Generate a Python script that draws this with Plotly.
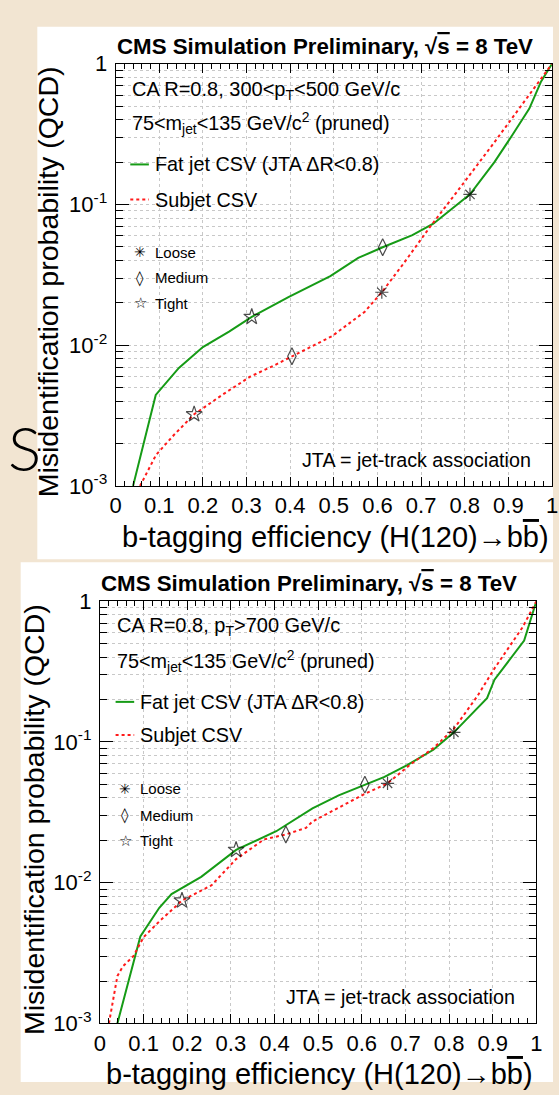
import plotly.graph_objects as go

W, H = 559, 1095

# ---------------- data ----------------
# Top panel: CA R=0.8, 300<pT<500 GeV/c
top_fat_x = [0.04, 0.092, 0.145, 0.20, 0.26, 0.312, 0.396, 0.492, 0.556, 0.612, 0.68, 0.728, 0.812, 0.868, 0.908, 0.948, 0.975, 1.0]
top_fat_y = [0.001, 0.00443, 0.0069, 0.0097, 0.0125, 0.0159, 0.022, 0.031, 0.0417, 0.0497, 0.0606, 0.073, 0.118, 0.20, 0.308, 0.48, 0.75, 1.0]
top_sub_x = [0.056, 0.0926, 0.133, 0.18, 0.245, 0.308, 0.36, 0.404, 0.452, 0.496, 0.571, 0.61, 0.661, 0.72, 0.788, 0.868, 1.0]
top_sub_y = [0.001, 0.00166, 0.00229, 0.00323, 0.00445, 0.00597, 0.0071, 0.00835, 0.0099, 0.0116, 0.0173, 0.0238, 0.0385, 0.069, 0.13, 0.277, 1.0]

# Bottom panel: CA R=0.8, pT>700 GeV/c
bot_fat_x = [0.04, 0.0926, 0.136, 0.164, 0.232, 0.312, 0.404, 0.487, 0.547, 0.607, 0.652, 0.704, 0.764, 0.811, 0.887, 0.904, 0.943, 0.972, 1.0]
bot_fat_y = [0.001, 0.00415, 0.00663, 0.0083, 0.011, 0.0171, 0.0232, 0.0337, 0.0417, 0.0497, 0.0565, 0.0685, 0.088, 0.117, 0.205, 0.277, 0.40, 0.525, 1.0]
bot_sub_x = [0.0206, 0.04, 0.0525, 0.0765, 0.10, 0.136, 0.188, 0.256, 0.312, 0.376, 0.426, 0.472, 0.487, 0.547, 0.607, 0.659, 0.711, 0.764, 0.811, 0.865, 0.904, 0.968, 1.0]
bot_sub_y = [0.001, 0.00217, 0.00254, 0.0030, 0.0041, 0.0053, 0.00746, 0.0096, 0.0147, 0.0203, 0.022, 0.0245, 0.0272, 0.0343, 0.0428, 0.0508, 0.069, 0.0904, 0.124, 0.212, 0.333, 0.65, 1.0]

# Working points (Tight, Medium, Loose)
wp_names = ["Tight", "Medium", "Loose"]
top_fat_wp_x = [0.312, 0.612, 0.812]
top_fat_wp_y = [0.0159, 0.0497, 0.118]
top_sub_wp_x = [0.18, 0.404, 0.61]
top_sub_wp_y = [0.00323, 0.00835, 0.0238]
bot_fat_wp_x = [0.312, 0.607, 0.811]
bot_fat_wp_y = [0.0171, 0.0497, 0.117]
bot_sub_wp_x = [0.188, 0.426, 0.659]
bot_sub_wp_y = [0.00746, 0.022, 0.0508]

x_tick_vals = [0, 0.1, 0.2, 0.3, 0.4, 0.5, 0.6, 0.7, 0.8, 0.9, 1.0]
x_tick_text = ["0", "0.1", "0.2", "0.3", "0.4", "0.5", "0.6", "0.7", "0.8", "0.9", "1"]
y_tick_vals = [0.001, 0.01, 0.1, 1]
y_tick_text = ["10<sup>-3</sup>", "10<sup>-2</sup>", "10<sup>-1</sup>", "1"]
y_minor_mult = [2, 3, 4, 5, 6, 7, 8, 9]
y_minor_vals = [m * d for d in (0.001, 0.01, 0.1) for m in y_minor_mult]

# ---------------- styling ----------------
FONT = "Liberation Sans, Arial, Helvetica, sans-serif"
GREEN = "#169b16"
RED = "#ff1a1a"
PARCH = "#f2e5d2"
GRID = "#c8c8c8"
SYMBOLS = ["star-open", "diamond-tall-open", "asterisk-open"]
SIZES = [12, 12, 11]


def px(x):
    return x / W


def py(y):
    return 1 - y / H


fig = go.Figure()

panels = [
    dict(xa="x", ya="y", fx=top_fat_x, fy=top_fat_y, sx=top_sub_x, sy=top_sub_y,
         fwx=top_fat_wp_x, fwy=top_fat_wp_y, swx=top_sub_wp_x, swy=top_sub_wp_y),
    dict(xa="x2", ya="y2", fx=bot_fat_x, fy=bot_fat_y, sx=bot_sub_x, sy=bot_sub_y,
         fwx=bot_fat_wp_x, fwy=bot_fat_wp_y, swx=bot_sub_wp_x, swy=bot_sub_wp_y),
]

for p in panels:
    fig.add_trace(go.Scatter(x=p["fx"], y=p["fy"], mode="lines", xaxis=p["xa"], yaxis=p["ya"],
                             line=dict(color=GREEN, width=2), name="Fat jet CSV (JTA ΔR<0.8)",
                             showlegend=False))
    fig.add_trace(go.Scatter(x=p["sx"], y=p["sy"], mode="lines", xaxis=p["xa"], yaxis=p["ya"],
                             line=dict(color=RED, width=2, dash="3px,3px"), name="Subjet CSV",
                             showlegend=False))
    for wx, wy in ((p["fwx"], p["fwy"]), (p["swx"], p["swy"])):
        fig.add_trace(go.Scatter(x=wx, y=wy, mode="markers", xaxis=p["xa"], yaxis=p["ya"],
                                 showlegend=False, hovertext=wp_names,
                                 marker=dict(symbol=SYMBOLS, size=SIZES, color="black",
                                             line=dict(color="black", width=1.2))))

common_x = dict(range=[0, 1], tickvals=x_tick_vals, ticktext=x_tick_text,
                ticks="inside", ticklen=9, tickcolor="black", tickwidth=1,
                showline=True, linecolor="black", linewidth=1, mirror="ticks",
                showgrid=True, gridcolor=GRID, gridwidth=1, griddash="dot",
                zeroline=False, tickfont=dict(family=FONT, size=22, color="black"),
                minor=dict(dtick=0.02, tick0=0, ticks="inside", ticklen=5, tickcolor="black",
                           showgrid=False))
common_y = dict(type="log", range=[-3, 0], tickvals=y_tick_vals, ticktext=y_tick_text,
                ticks="inside", ticklen=13, tickcolor="black", tickwidth=1,
                showline=True, linecolor="black", linewidth=1, mirror="ticks",
                showgrid=True, gridcolor=GRID, gridwidth=1, griddash="dot",
                zeroline=False, tickfont=dict(family=FONT, size=22, color="black"),
                ticklabelstandoff=3,
                minor=dict(tickmode="array", tickvals=y_minor_vals, ticks="inside", ticklen=7,
                           tickcolor="black", showgrid=True, gridcolor=GRID, griddash="dot"))

fig.update_layout(
    width=W, height=H, margin=dict(l=0, r=0, t=0, b=0), autosize=False,
    paper_bgcolor=PARCH, plot_bgcolor="white", showlegend=False,
    font=dict(family=FONT, color="black"),
    xaxis=dict(domain=[px(112), px(558)], anchor="y", **common_x),
    yaxis=dict(domain=[py(485), py(53)], anchor="x", **common_y),
    xaxis2=dict(domain=[px(96), px(542)], anchor="y2", **common_x),
    yaxis2=dict(domain=[py(1035), py(603)], anchor="x2", **common_y),
)

shapes = [
    dict(type="rect", xref="paper", yref="paper", x0=px(32), x1=px(559), y0=py(560), y1=py(15),
         fillcolor="white", line=dict(width=0), layer="below"),
    dict(type="rect", xref="paper", yref="paper", x0=px(15), x1=px(559), y0=py(1095), y1=py(563),
         fillcolor="white", line=dict(width=0), layer="below"),
]

ann = []


def text(x, y, s, size=19.5, xanchor="left", yanchor="middle", angle=0, family=FONT, weight=None):
    f = dict(family=family, size=size, color="black")
    if weight is not None:
        f["weight"] = weight
    ann.append(dict(x=px(x), y=py(y), xref="paper", yref="paper", text=s, showarrow=False,
                    xanchor=xanchor, yanchor=yanchor, textangle=angle, font=f, borderpad=0))


blocks = [
    dict(dx=0, dy=0, ox=127.6, kin="CA R=0.8, 300&lt;p<sub>T</sub>&lt;500 GeV/c", lx0=127, ytx=43),
    dict(dx=-16, dy=550, ox=112.3, kin="CA R=0.8, p<sub>T</sub>&gt;700 GeV/c", lx0=112, ytx=28),
]
top_rows = dict(kin=79, mass=113, fat=156, sub=192, loose=246, medium=272, tight=298)
bot_rows = dict(kin=627, mass=663, fat=706, sub=740, loose=795, medium=822, tight=848)

for i, b in enumerate(blocks):
    dx, dy = b["dx"], b["dy"]
    ro = top_rows if i == 0 else {k: v - 550 for k, v in bot_rows.items()}
    text(112 + dx, 35 + dy, "<b>CMS Simulation Preliminary, √<span style='text-decoration:overline'>s</span> = 8 TeV</b>", size=22.3)
    text(b["ox"], ro["kin"] + dy + 1.5, b["kin"], size=20)
    text(b["ox"], ro["mass"] + dy + 1, "75&lt;m<sub>jet</sub>&lt;135 GeV/c<sup>2</sup> (pruned)", size=19.8)
    tx = b["ox"] + 24
    shapes.append(dict(type="line", xref="paper", yref="paper", x0=px(b["lx0"]), x1=px(b["lx0"] + 19),
                       y0=py(ro["fat"] + dy), y1=py(ro["fat"] + dy), line=dict(color=GREEN, width=2)))
    shapes.append(dict(type="line", xref="paper", yref="paper", x0=px(b["lx0"]), x1=px(b["lx0"] + 19),
                       y0=py(ro["sub"] + dy), y1=py(ro["sub"] + dy),
                       line=dict(color=RED, width=2, dash="3px,3px")))
    text(tx, ro["fat"] + dy, "Fat jet CSV (JTA ΔR&lt;0.8)", size=19.8)
    text(tx, ro["sub"] + dy, "Subjet CSV", size=19.8)
    mx = b["lx0"] + 10
    text(mx, ro["loose"] + dy, "✳", size=14, xanchor="center", family="DejaVu Sans")
    text(mx, ro["medium"] + dy, "◊", size=15, xanchor="center", family="DejaVu Sans")
    text(mx, ro["tight"] + dy, "☆", size=15, xanchor="center", family="DejaVu Sans")
    text(tx, ro["loose"] + dy, "Loose", size=15)
    text(tx, ro["medium"] + dy, "Medium", size=15)
    text(tx, ro["tight"] + dy, "Tight", size=15)
    text(301 + dx, 458 + dy, "JTA = jet-track association", size=19.7)
    text(556 + dx, 537 + dy, "b-tagging efficiency (H(120)→b<span style='text-decoration:overline'>b</span>)",
         size=29, xanchor="right")
    text(b["ytx"], 55 + dy, "Misidentification probability (QCD)", size=28.5, xanchor="center",
         yanchor="top", angle=-90)

# decorative glyph at the left edge of the slide
text(19, 445, "S", size=62, xanchor="center", family="Lato, Inter, DejaVu Sans", weight=300)

fig.update_layout(shapes=shapes, annotations=ann)
fig.write_html("out.html", config={"responsive": False, "displayModeBar": False},
               post_script="document.body.style.margin='0';document.body.style.overflow='hidden';")
